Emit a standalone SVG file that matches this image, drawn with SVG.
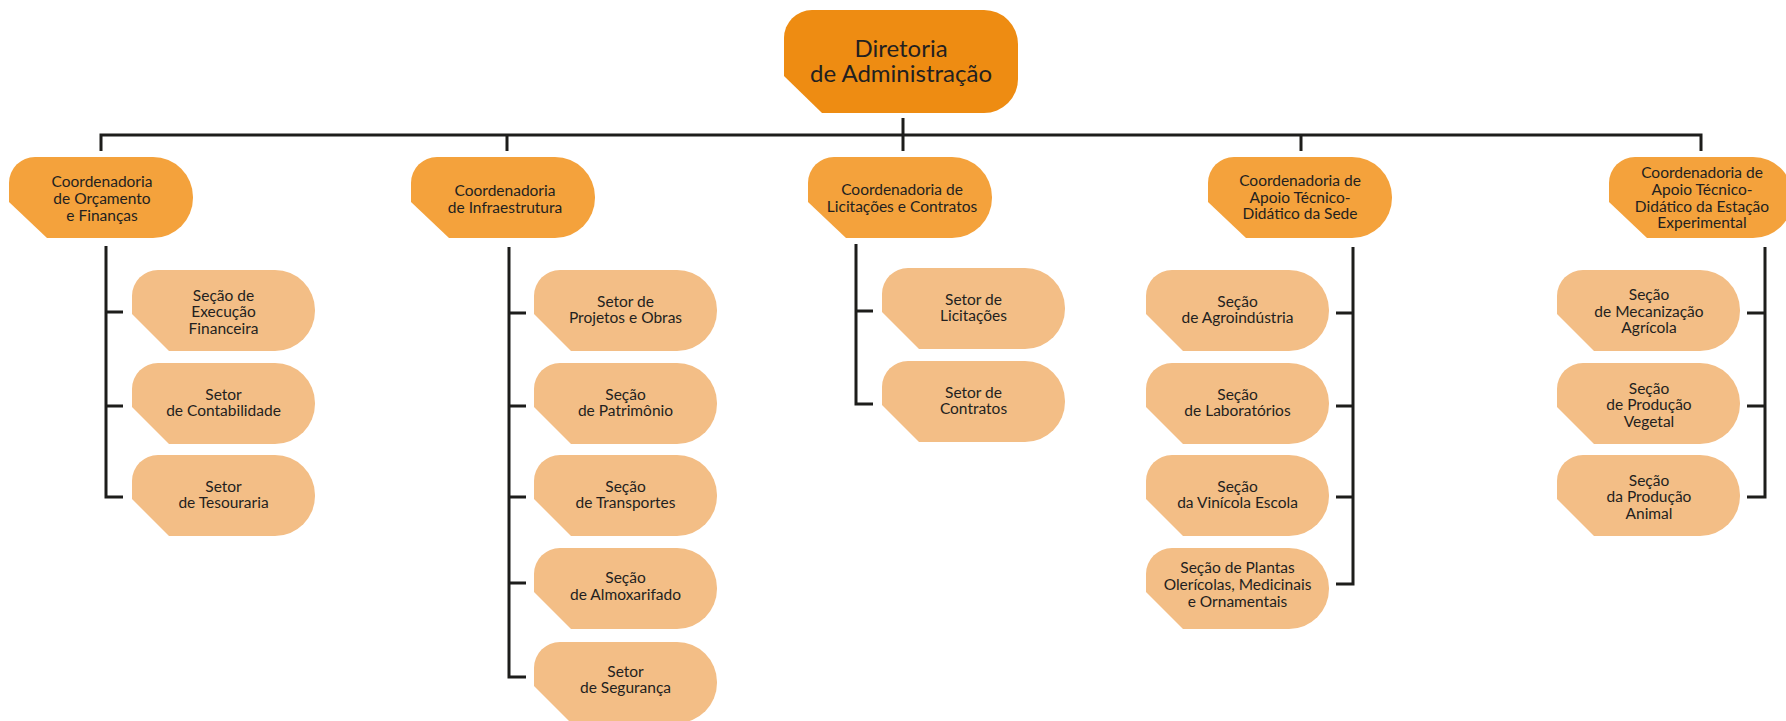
<svg xmlns="http://www.w3.org/2000/svg" xmlns:xlink="http://www.w3.org/1999/xlink" width="1786" height="721" viewBox="0 0 1786 721">
<style>
.top{fill:#EE8C12}
.coord{fill:#F4A23C}
.child{fill:#F3BE86}
text{font-family:Lato,"Liberation Sans",sans-serif;fill:#231F20;text-anchor:middle}
.t1{font-size:24px}
.t2{font-size:15.5px}
.conn{fill:none;stroke:#1D1D1B;stroke-width:3}
</style>
<defs>
<path id="shTop" d="M0,28 A28,28 0 0 1 28,0 H200 A34,34 0 0 1 234,34 V69 A34,34 0 0 1 200,103 H38 L0,66 Z"/>
<path id="shCoord" d="M0,26 A26,26 0 0 1 26,0 H144 A40,40 0 0 1 184,40 V41 A40,40 0 0 1 144,81 H38 L0,45 Z"/>
<path id="shChild" d="M0,26 A26,26 0 0 1 26,0 H143 A40,40 0 0 1 183,40 V41 A40,40 0 0 1 143,81 H37 L0,44 Z"/>
</defs>
<rect width="1786" height="721" fill="#FFFFFF"/>

<g id="connectors" class="conn">
<path d="M903,118 V151"/>
<path d="M101,151 V135 H1701 V151"/>
<path d="M507,135 V151"/>
<path d="M1301,135 V151"/>
<path d="M106,246 V497 H123 M106,312 H123 M106,406 H123"/>
<path d="M509,247 V677 H526 M509,313 H526 M509,406 H526 M509,497 H526 M509,583 H526"/>
<path d="M856,244 V404 H873 M856,311 H873"/>
<path d="M1353,247 V584 H1336 M1353,313 H1336 M1353,406 H1336 M1353,497 H1336"/>
<path d="M1765,247 V497 H1747 M1765,313 H1747 M1765,406 H1747"/>
</g>

<g id="diretoria">
<use xlink:href="#shTop" href="#shTop" x="784" y="10" class="top"/>
<text class="t1" x="901" y="57">Diretoria</text>
<text class="t1" x="901" y="82">de Administração</text>
</g>

<g id="coord-orcamento">
<use href="#shCoord" xlink:href="#shCoord" x="9" y="157" class="coord"/>
<text class="t2" x="102" y="187">Coordenadoria</text>
<text class="t2" x="102" y="204">de Orçamento</text>
<text class="t2" x="102" y="221">e Finanças</text>
</g>
<g id="coord-infra">
<use href="#shCoord" xlink:href="#shCoord" x="411" y="157" class="coord"/>
<text class="t2" x="505" y="196">Coordenadoria</text>
<text class="t2" x="505" y="213">de Infraestrutura</text>
</g>
<g id="coord-licitacoes">
<use href="#shCoord" xlink:href="#shCoord" x="808" y="157" class="coord"/>
<text class="t2" x="902" y="195">Coordenadoria de</text>
<text class="t2" x="902" y="212">Licitações e Contratos</text>
</g>
<g id="coord-sede">
<use href="#shCoord" xlink:href="#shCoord" x="1208" y="157" class="coord"/>
<text class="t2" x="1300" y="186">Coordenadoria de</text>
<text class="t2" x="1300" y="203">Apoio Técnico-</text>
<text class="t2" x="1300" y="219">Didático da Sede</text>
</g>
<g id="coord-estacao">
<use href="#shCoord" xlink:href="#shCoord" x="1609" y="157" class="coord"/>
<text class="t2" x="1702" y="178">Coordenadoria de</text>
<text class="t2" x="1702" y="195">Apoio Técnico-</text>
<text class="t2" x="1702" y="212">Didático da Estação</text>
<text class="t2" x="1702" y="228">Experimental</text>
</g>

<g id="execucao-financeira">
<use href="#shChild" xlink:href="#shChild" x="132" y="270" class="child"/>
<text class="t2" x="223.5" y="301">Seção de</text>
<text class="t2" x="223.5" y="317">Execução</text>
<text class="t2" x="223.5" y="334">Financeira</text>
</g>
<g id="contabilidade">
<use href="#shChild" xlink:href="#shChild" x="132" y="363" class="child"/>
<text class="t2" x="223.5" y="400">Setor</text>
<text class="t2" x="223.5" y="416">de Contabilidade</text>
</g>
<g id="tesouraria">
<use href="#shChild" xlink:href="#shChild" x="132" y="455" class="child"/>
<text class="t2" x="223.5" y="492">Setor</text>
<text class="t2" x="223.5" y="508">de Tesouraria</text>
</g>

<g id="projetos-obras">
<use href="#shChild" xlink:href="#shChild" x="534" y="270" class="child"/>
<text class="t2" x="625.5" y="307">Setor de</text>
<text class="t2" x="625.5" y="323">Projetos e Obras</text>
</g>
<g id="patrimonio">
<use href="#shChild" xlink:href="#shChild" x="534" y="363" class="child"/>
<text class="t2" x="625.5" y="400">Seção</text>
<text class="t2" x="625.5" y="416">de Patrimônio</text>
</g>
<g id="transportes">
<use href="#shChild" xlink:href="#shChild" x="534" y="455" class="child"/>
<text class="t2" x="625.5" y="492">Seção</text>
<text class="t2" x="625.5" y="508">de Transportes</text>
</g>
<g id="almoxarifado">
<use href="#shChild" xlink:href="#shChild" x="534" y="548" class="child"/>
<text class="t2" x="625.5" y="583">Seção</text>
<text class="t2" x="625.5" y="600">de Almoxarifado</text>
</g>
<g id="seguranca">
<use href="#shChild" xlink:href="#shChild" x="534" y="642" class="child"/>
<text class="t2" x="625.5" y="677">Setor</text>
<text class="t2" x="625.5" y="693">de Segurança</text>
</g>

<g id="licitacoes">
<use href="#shChild" xlink:href="#shChild" x="882" y="268" class="child"/>
<text class="t2" x="973.5" y="305">Setor de</text>
<text class="t2" x="973.5" y="321">Licitações</text>
</g>
<g id="contratos">
<use href="#shChild" xlink:href="#shChild" x="882" y="361" class="child"/>
<text class="t2" x="973.5" y="398">Setor de</text>
<text class="t2" x="973.5" y="414">Contratos</text>
</g>

<g id="agroindustria">
<use href="#shChild" xlink:href="#shChild" x="1146" y="270" class="child"/>
<text class="t2" x="1237.5" y="307">Seção</text>
<text class="t2" x="1237.5" y="323">de Agroindústria</text>
</g>
<g id="laboratorios">
<use href="#shChild" xlink:href="#shChild" x="1146" y="363" class="child"/>
<text class="t2" x="1237.5" y="400">Seção</text>
<text class="t2" x="1237.5" y="416">de Laboratórios</text>
</g>
<g id="vinicola">
<use href="#shChild" xlink:href="#shChild" x="1146" y="455" class="child"/>
<text class="t2" x="1237.5" y="492">Seção</text>
<text class="t2" x="1237.5" y="508">da Vinícola Escola</text>
</g>
<g id="plantas">
<use href="#shChild" xlink:href="#shChild" x="1146" y="548" class="child"/>
<text class="t2" x="1237.5" y="573">Seção de Plantas</text>
<text class="t2" x="1237.5" y="590">Olerícolas, Medicinais</text>
<text class="t2" x="1237.5" y="607">e Ornamentais</text>
</g>

<g id="mecanizacao">
<use href="#shChild" xlink:href="#shChild" x="1557" y="270" class="child"/>
<text class="t2" x="1649" y="300">Seção</text>
<text class="t2" x="1649" y="317">de Mecanização</text>
<text class="t2" x="1649" y="333">Agrícola</text>
</g>
<g id="producao-vegetal">
<use href="#shChild" xlink:href="#shChild" x="1557" y="363" class="child"/>
<text class="t2" x="1649" y="394">Seção</text>
<text class="t2" x="1649" y="410">de Produção</text>
<text class="t2" x="1649" y="427">Vegetal</text>
</g>
<g id="producao-animal">
<use href="#shChild" xlink:href="#shChild" x="1557" y="455" class="child"/>
<text class="t2" x="1649" y="486">Seção</text>
<text class="t2" x="1649" y="502">da Produção</text>
<text class="t2" x="1649" y="519">Animal</text>
</g>
</svg>
